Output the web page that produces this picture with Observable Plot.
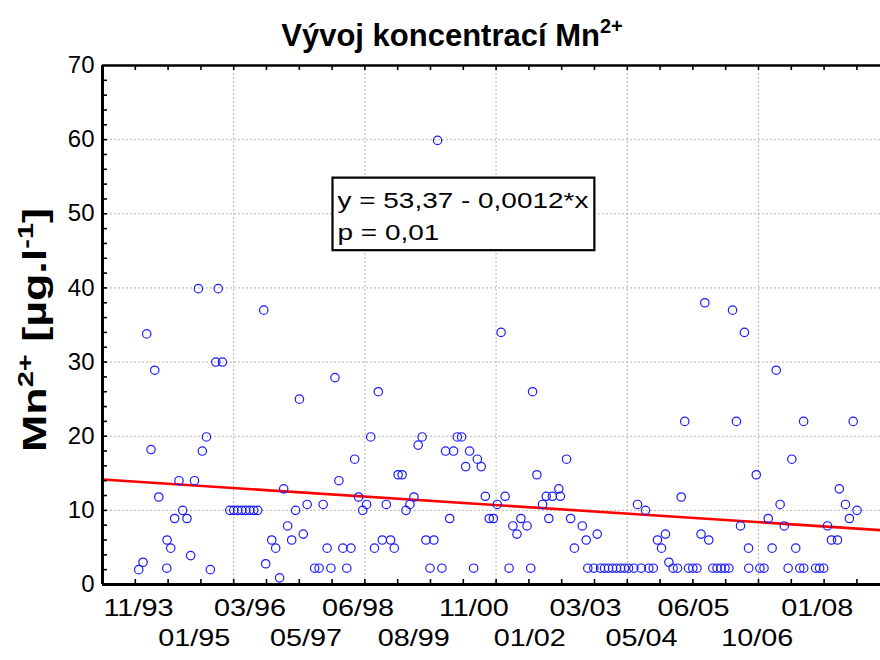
<!DOCTYPE html>
<html>
<head>
<meta charset="utf-8">
<script src="https://cdn.jsdelivr.net/npm/d3@7"></script>
<script src="https://cdn.jsdelivr.net/npm/@observablehq/plot@0.6"></script>
<style>
  body { margin: 0; background: #fff; }
  #chart { width: 880px; height: 660px; }
</style>
</head>
<body>
<div id="chart"></div>
<script>
// Sampling dates as Statistica/Excel date serials (days since 30.12.1899)
const dates = [
  34276, 34309, 34337, 34370, 34398, 34429, 34490, 34492, 34520, 34550,
  34583, 34611, 34644, 34672, 34701, 34731, 34761, 34792, 34822, 34864,
  34882, 34914, 34970, 35000, 35030, 35061, 35091, 35122, 35152, 35183,
  35229, 35244, 35290, 35320, 35350, 35381, 35411, 35442, 35472, 35501,
  35530, 35560, 35617, 35651, 35682, 35712, 35741, 35772, 35802, 35832,
  35862, 35894, 35922, 35952, 35983, 36013, 36044, 36073, 36102, 36133,
  36163, 36196, 36224, 36253, 36284, 36313, 36343, 36374, 36406, 36436,
  36465, 36496, 36526, 36554, 36587, 36615, 36646, 36676, 36704, 36737,
  36768, 36798, 36829, 36857, 36887, 36918, 36948, 36979, 37009, 37038,
  37069, 37099, 37128, 37159, 37189, 37236, 37264, 37278, 37311, 37354,
  37382, 37402, 37429, 37478, 37490, 37537, 37568, 37597, 37657, 37687,
  37699, 37745, 37771, 37796, 37827, 37857, 37888, 37918, 37949, 37979,
  38010, 38050, 38078, 38106, 38139, 38164, 38198, 38230, 38261, 38291,
  38317, 38349, 38383, 38411, 38438, 38467, 38499, 38531, 38562, 38591,
  38621, 38652, 38684, 38714, 38745, 38774, 38802, 38832, 38863, 38893,
  38924, 38926, 38983, 39011, 39042, 39074, 39104, 39135, 39165, 39196,
  39226, 39254, 39284, 39315, 39344, 39345, 39436, 39466, 39497, 39526,
  39556, 39602, 39616, 39663, 39693, 39722, 39751
];
// Mn2+ concentration [µg/l]
const mn = [
  2.0, 3.0, 33.8, 18.2, 28.9, 11.8, 2.2, 6.0, 4.9, 8.9,
  14.0, 10.0, 8.9, 3.9, 14.0, 39.9, 18.0, 19.9, 2.0, 30.0,
  39.9, 30.0, 10.0, 10.0, 10.0, 10.0, 10.0, 10.0, 10.0, 10.0,
  37.0, 2.8, 6.0, 4.9, 0.9, 12.9, 7.9, 6.0, 10.0, 25.0,
  6.8, 10.8, 2.2, 2.2, 10.8, 4.9, 2.2, 27.9, 14.0, 4.9,
  2.2, 4.9, 16.9, 11.8, 10.0, 10.8, 19.9, 4.9, 26.0, 6.0,
  10.8, 6.0, 4.9, 14.8, 14.8, 10.0, 10.8, 11.8, 18.8, 19.9,
  6.0, 2.2, 6.0, 59.9, 2.2, 18.0, 8.9, 18.0, 19.9, 19.9,
  15.9, 18.0, 2.2, 16.9, 15.9, 11.9, 8.9, 8.9, 10.8, 34.0,
  11.9, 2.2, 7.9, 6.8, 8.9, 7.9, 2.2, 26.0, 14.8, 10.8,
  11.9, 8.9, 11.9, 12.9, 11.9, 16.9, 8.9, 4.9, 7.9, 6.0,
  2.2, 2.2, 6.8, 2.2, 2.2, 2.2, 2.2, 2.2, 2.2, 2.2,
  2.2, 2.2, 10.8, 2.2, 10.0, 2.2, 2.2, 6.0, 4.9, 6.8,
  3.0, 2.2, 2.2, 11.8, 22.0, 2.2, 2.2, 2.2, 6.8, 38.0,
  6.0, 2.2, 2.2, 2.2, 2.2, 2.2, 37.0, 22.0, 7.9, 34.0,
  4.9, 2.2, 14.8, 2.2, 2.2, 8.9, 4.9, 28.9, 10.8, 7.9,
  2.2, 16.9, 4.9, 2.2, 22.0, 2.2, 2.2, 2.2, 2.2, 7.9,
  6.0, 6.0, 12.9, 10.8, 8.9, 22.0, 10.0
];
const xTickLabels = ["11/93","01/95","03/96","05/97","06/98","08/99","11/00",
                     "01/02","03/03","05/04","06/05","10/06","01/08"];
const yTicks = [0, 10, 20, 30, 40, 50, 60, 70];
const regIntercept = 53.37;     // fitted line y = a + b*x
const regSlope = -0.001153;
const eqLines = ["y = 53,37 - 0,0012*x", "p = 0,01"];
const titleMain = "Vývoj koncentrací Mn";
const titleSup = "2+";

// ---- derived -------------------------------------------------------------
const xDomain = [34000, 39930];
const serialOf = (lbl) => {
  const [m, y] = lbl.split("/").map(Number);
  const year = y < 50 ? 2000 + y : 1900 + y;
  return (Date.UTC(year, m - 1, 1) - Date.UTC(1899, 11, 30)) / 864e5;
};
const points = dates.map((d, i) => ({date: d, mn: mn[i]}));
const labels = xTickLabels.map((t, i) => ({x: serialOf(t), t, row: i % 2}));
const regLine = xDomain.map(x => ({x, y: regIntercept + regSlope * x}));
const majorX = d3.range(35000, xDomain[1], 1000);
const minorX = d3.range(34250, xDomain[1], 250);
const minorY = d3.range(2, 70, 2);
const gridYv = yTicks.filter(v => v > 0 && v < 70);

const mL = 102, mR = 0, mT = 65, mB = 76, W = 880, H = 660;
const fw = W - mL - mR, fh = H - mT - mB;
const FONT = "'Liberation Sans', Arial, Helvetica, sans-serif";

const plot = Plot.plot({
  width: W, height: H,
  marginLeft: mL, marginRight: mR, marginTop: mT, marginBottom: mB,
  style: {fontFamily: FONT, fontSize: "24px", background: "#fff", color: "#000", overflow: "visible"},
  x: {type: "linear", domain: xDomain, axis: null},
  y: {domain: [0, 70], axis: null},
  marks: [
    Plot.gridX(majorX, {stroke: "#b4b4b4", strokeOpacity: 1, strokeWidth: 1, strokeDasharray: "2,2"}),
    Plot.gridY(gridYv, {stroke: "#b4b4b4", strokeOpacity: 1, strokeWidth: 1, strokeDasharray: "2,2"}),
    Plot.line(regLine, {x: "x", y: "y", stroke: "#ff0000", strokeWidth: 2.6}),
    Plot.dot(points, {x: "date", y: "mn", r: 4.2, stroke: "#1a1aff", strokeWidth: 1.2, fill: "none"}),
    Plot.ruleX(minorX, {insetTop: fh - 5, stroke: "#000", strokeWidth: 1.6}),
    Plot.ruleX(minorX, {insetBottom: fh - 5, stroke: "#000", strokeWidth: 1.6}),
    Plot.ruleY(minorY, {insetRight: fw - 5, stroke: "#000", strokeWidth: 1.6}),
    Plot.ruleY([0], {stroke: "#000", strokeWidth: 3}),
    Plot.ruleY([70], {stroke: "#000", strokeWidth: 2.5}),
    Plot.ruleX([xDomain[0]], {stroke: "#000", strokeWidth: 3}),
    Plot.axisY(yTicks, {anchor: "left", tickSize: 0, tickPadding: 8, className: "ylab"}),
    Plot.text(labels.filter(d => d.row === 0), {x: "x", text: "t", frameAnchor: "bottom", dy: 24, lineAnchor: "middle", className: "xlab"}),
    Plot.text(labels.filter(d => d.row === 1), {x: "x", text: "t", frameAnchor: "bottom", dy: 54, lineAnchor: "middle", className: "xlab"}),
    Plot.text([eqLines.join("\n")], {frameAnchor: "top-left", dx: 235, dy: 119, textAnchor: "start", lineAnchor: "top", lineHeight: 1.48, fontSize: 22, className: "eq"})
  ]
});

document.getElementById("chart").appendChild(plot);
const svg = d3.select(plot);

function stretch(sel, f) {
  sel.each(function () {
    const len = this.getComputedTextLength();
    if (len > 0) {
      this.setAttribute("textLength", (len * f).toFixed(2));
      this.setAttribute("lengthAdjust", "spacingAndGlyphs");
    }
  });
}
stretch(svg.selectAll(".xlab text"), 1.2);
stretch(svg.selectAll(".eq tspan"), 1.27);

// box around regression note (same local coordinates as the text)
const eqText = svg.select(".eq text").node();
const bb = eqText.getBBox();
svg.select(".eq").insert("rect", "text")
  .attr("transform", eqText.getAttribute("transform"))
  .attr("x", bb.x - 5).attr("y", bb.y - 10)
  .attr("width", bb.width + 11).attr("height", bb.height + 15)
  .attr("fill", "#fff").attr("stroke", "#000").attr("stroke-width", 2.2);

// title
const t = svg.append("text")
  .attr("x", 452).attr("y", 46)
  .attr("text-anchor", "middle")
  .attr("font-family", FONT).attr("font-weight", "bold").attr("font-size", 31);
t.append("tspan").text(titleMain);
t.append("tspan").attr("dy", -13).attr("font-size", 20).text(titleSup);

// y-axis title, stretched along its length like the original
const yl = svg.append("text")
  .attr("transform", `translate(46,330) rotate(-90)`)
  .attr("text-anchor", "middle")
  .attr("font-family", FONT).attr("font-weight", "bold").attr("font-size", 34);
yl.append("tspan").text("Mn");
yl.append("tspan").attr("dy", -13).attr("font-size", 22).text("2+");
yl.append("tspan").attr("dy", 13).text(" [µg.l");
yl.append("tspan").attr("dy", -13).attr("font-size", 22).text("-1");
yl.append("tspan").attr("dy", 13).text("]");
yl.attr("textLength", 244).attr("lengthAdjust", "spacingAndGlyphs");
</script>
</body>
</html>
